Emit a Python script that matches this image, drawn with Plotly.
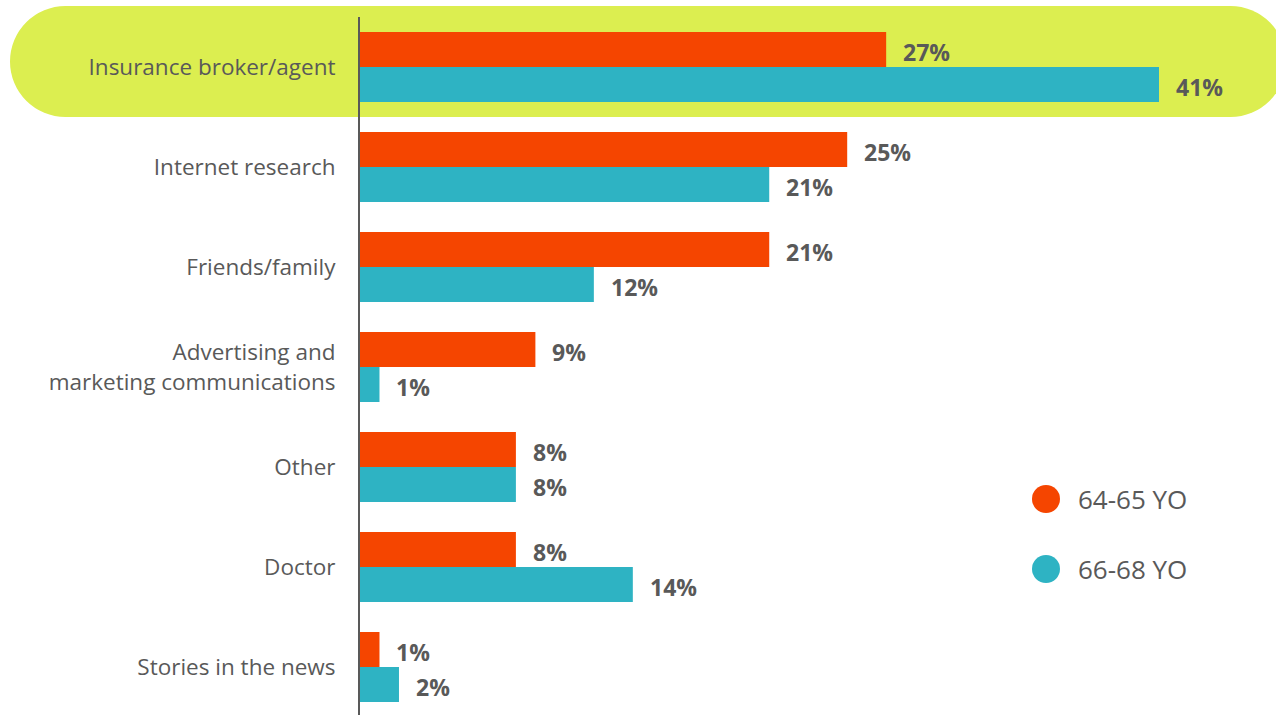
import plotly.graph_objects as go

categories = ["Insurance broker/agent", "Internet research", "Friends/family",
              "Advertising and<br>marketing communications", "Other", "Doctor",
              "Stories in the news"]
series_names = ["64-65 YO", "66-68 YO"]
values_6465 = [27, 25, 21, 9, 8, 8, 1]
values_6668 = [41, 21, 12, 1, 8, 14, 2]
colors = ["#F54500", "#2EB3C3"]

W, H = 1276, 715
ML, MT, MB = 360, 17, 0
MR = W - 1257
PW, PH = W - ML - MR, H - MT - MB

def px_x(px):
    return (px - ML) / PW

def px_y(py):
    return 1 - (py - MT) / PH

fig = go.Figure()
for name, vals, col in zip(series_names, [values_6465, values_6668], colors):
    fig.add_trace(go.Bar(y=categories, x=vals, orientation="h", name=name,
                         marker=dict(color=col, line=dict(width=0)),
                         showlegend=False, hoverinfo="x+y"))

ann = []
for vals, shift in [(values_6465, 15.5), (values_6668, -19.5)]:
    for c, v in zip(categories, vals):
        ann.append(dict(x=v, y=c, xref="x", yref="y", text=f"<b>{v}%</b>",
                        showarrow=False, xanchor="left", yanchor="middle",
                        xshift=15, yshift=shift,
                        font=dict(family="Open Sans", size=23, color="#595959")))

shapes = []
hl = "#DCEE50"
top, bot = 6, 117
r = (bot - top) / 2
left, right = 10, 1286
shapes.append(dict(type="circle", xref="paper", yref="paper", layer="below",
                   x0=px_x(left), x1=px_x(left + 2 * r), y0=px_y(bot), y1=px_y(top),
                   fillcolor=hl, line=dict(width=0)))
shapes.append(dict(type="circle", xref="paper", yref="paper", layer="below",
                   x0=px_x(right - 2 * r), x1=px_x(right), y0=px_y(bot), y1=px_y(top),
                   fillcolor=hl, line=dict(width=0)))
shapes.append(dict(type="rect", xref="paper", yref="paper", layer="below",
                   x0=px_x(left + r), x1=px_x(right - r), y0=px_y(bot), y1=px_y(top),
                   fillcolor=hl, line=dict(width=0)))

for i, (name, col) in enumerate(zip(series_names, colors)):
    cy = 499 + 70 * i
    cx = 1046
    shapes.append(dict(type="circle", xref="paper", yref="paper",
                       x0=px_x(cx - 14), x1=px_x(cx + 14), y0=px_y(cy + 14), y1=px_y(cy - 14),
                       fillcolor=col, line=dict(width=0)))
    ann.append(dict(x=px_x(1076), y=px_y(cy), xref="paper", yref="paper", text=name,
                    showarrow=False, xanchor="left", yanchor="middle",
                    font=dict(family="Open Sans", size=26, color="#595959")))

fig.update_layout(
    width=W, height=H,
    margin=dict(l=ML, r=MR, t=MT, b=MB, pad=0),
    paper_bgcolor="white", plot_bgcolor="rgba(0,0,0,0)",
    barmode="group", bargap=0.3, bargroupgap=0,
    annotations=ann, shapes=shapes,
    xaxis=dict(range=[0, 41 * PW / 799], visible=False, fixedrange=True),
    yaxis=dict(categoryorder="array", categoryarray=categories,
               range=[-0.5 + PH / 100, -0.5], showline=True, linecolor="#595959", linewidth=2,
               ticks="", showgrid=False, zeroline=False, ticklabelstandoff=18,
               fixedrange=True,
               tickfont=dict(family="Open Sans", size=22.5, color="#595959")),
    font=dict(family="Open Sans", color="#595959"),
)

fig.write_html("out.html",
               config={"displayModeBar": False},
               post_script="document.body.style.margin='0';document.body.style.overflow='hidden';")
